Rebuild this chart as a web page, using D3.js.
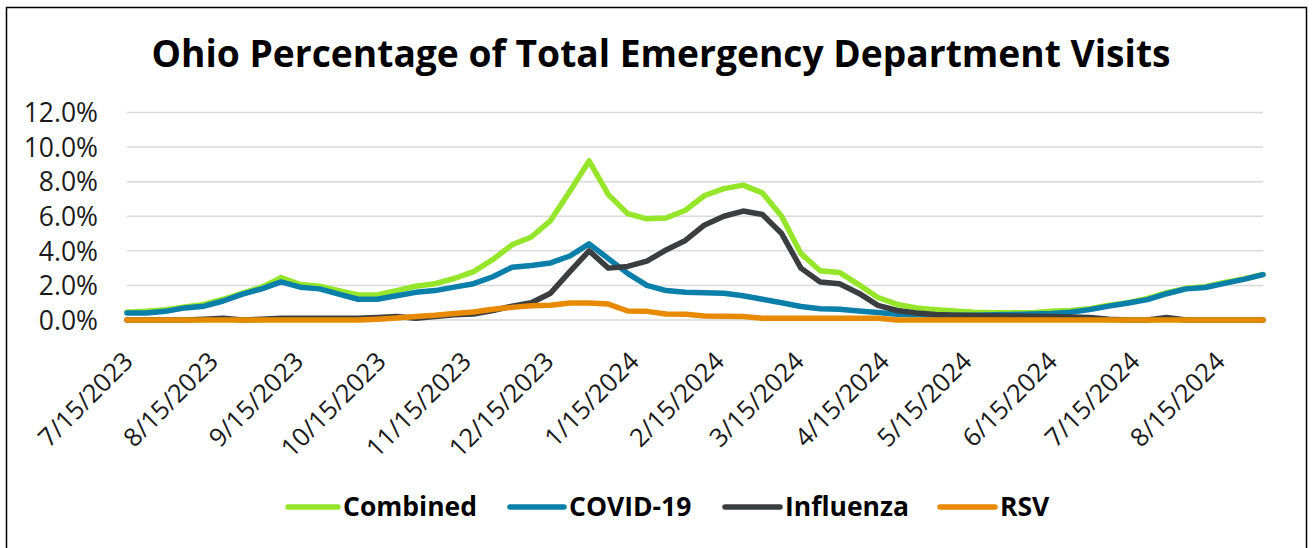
<!DOCTYPE html>
<html>
<head>
<meta charset="utf-8">
<script src="https://cdn.jsdelivr.net/npm/d3@7"></script>
<style>
  html, body { margin: 0; padding: 0; background: #fff; }
  svg { display: block; font-family: "Open Sans", "Noto Sans", sans-serif; }
</style>
</head>
<body>
<svg id="chart" width="1314" height="548"></svg>
<script>
// ---- data (weekly, week ending dates) ----
const dates = [
  "7/15/2023","7/22/2023","7/29/2023","8/5/2023","8/12/2023","8/19/2023","8/26/2023","9/2/2023","9/9/2023","9/16/2023",
  "9/23/2023","9/30/2023","10/7/2023","10/14/2023","10/21/2023","10/28/2023","11/4/2023","11/11/2023","11/18/2023","11/25/2023",
  "12/2/2023","12/9/2023","12/16/2023","12/23/2023","12/30/2023","1/6/2024","1/13/2024","1/20/2024","1/27/2024","2/3/2024",
  "2/10/2024","2/17/2024","2/24/2024","3/2/2024","3/9/2024","3/16/2024","3/23/2024","3/30/2024","4/6/2024","4/13/2024",
  "4/20/2024","4/27/2024","5/4/2024","5/11/2024","5/18/2024","5/25/2024","6/1/2024","6/8/2024","6/15/2024","6/22/2024",
  "6/29/2024","7/6/2024","7/13/2024","7/20/2024","7/27/2024","8/3/2024","8/10/2024","8/17/2024","8/24/2024","8/31/2024"
];
const combined = [
  0.45,0.5,0.6,0.75,0.9,1.2,1.55,1.9,2.45,2.05,
  1.95,1.7,1.45,1.45,1.7,1.95,2.1,2.4,2.8,3.5,
  4.35,4.8,5.75,7.45,9.2,7.25,6.15,5.85,5.9,6.35,
  7.2,7.6,7.8,7.35,6.0,3.85,2.85,2.75,2.05,1.3,
  0.9,0.7,0.6,0.52,0.45,0.42,0.42,0.42,0.5,0.55,
  0.65,0.85,1.0,1.25,1.58,1.83,1.92,2.17,2.38,2.63
];
const covid = [
  0.4,0.4,0.5,0.7,0.8,1.1,1.5,1.8,2.2,1.9,
  1.8,1.5,1.2,1.2,1.4,1.6,1.7,1.9,2.1,2.5,
  3.05,3.15,3.3,3.7,4.4,3.55,2.7,2.0,1.7,1.6,
  1.58,1.55,1.4,1.2,1.0,0.78,0.65,0.62,0.52,0.43,
  0.33,0.3,0.28,0.28,0.28,0.3,0.32,0.35,0.38,0.45,
  0.6,0.8,0.98,1.18,1.52,1.8,1.88,2.12,2.35,2.62
];
const influenza = [
  0,0,0,0,0.05,0.1,0,0.05,0.1,0.1,
  0.1,0.1,0.1,0.15,0.2,0.1,0.2,0.3,0.35,0.55,
  0.8,1.0,1.55,2.8,4.0,3.0,3.1,3.4,4.05,4.6,
  5.5,6.0,6.3,6.1,5.0,3.0,2.2,2.1,1.55,0.85,
  0.55,0.4,0.32,0.28,0.26,0.25,0.23,0.22,0.2,0.18,
  0.15,0.05,0,0,0.15,0,0,0,0,0
];
const rsv = [
  0,0,0,0,0,0,0,0,0,0,
  0,0,0,0.05,0.12,0.2,0.27,0.38,0.46,0.62,
  0.73,0.82,0.85,0.98,0.98,0.92,0.52,0.5,0.35,0.33,
  0.23,0.21,0.2,0.1,0.1,0.1,0.1,0.1,0.1,0.1,
  0,0,0,0,0,0,0,0,0,0,
  0,0,0,0,0,0,0,0,0,0
];
const seriesNames = ["Combined", "COVID-19", "Influenza", "RSV"];
const seriesColors = ["#95E52B", "#0A7FAA", "#3B3E41", "#E88A00"];
const xTickLabels = ["7/15/2023","8/15/2023","9/15/2023","10/15/2023","11/15/2023","12/15/2023",
  "1/15/2024","2/15/2024","3/15/2024","4/15/2024","5/15/2024","6/15/2024","7/15/2024","8/15/2024"];
const yTicks = [0, 2, 4, 6, 8, 10, 12];
const titleText = "Ohio Percentage of Total Emergency Department Visits";

// ---- chart ----
const parse = d3.utcParse("%m/%d/%Y");
const dateObjs = dates.map(parse);
const seriesValues = [combined, covid, influenza, rsv];

const svg = d3.select("#chart");
const plot = { left: 127, right: 1263, top: 112.5, bottom: 320 };

// border
svg.append("rect")
  .attr("x", 6.5).attr("y", 7.5)
  .attr("width", 1300).attr("height", 560)
  .attr("fill", "none").attr("stroke", "#000").attr("stroke-width", 1.5);

const x = d3.scaleUtc()
  .domain([dateObjs[0], dateObjs[dateObjs.length - 1]])
  .range([plot.left, plot.right]);
const y = d3.scaleLinear().domain([0, 12]).range([plot.bottom, plot.top]);

// title
svg.append("text")
  .attr("x", 661).attr("y", 67)
  .attr("text-anchor", "middle")
  .attr("font-size", 37.2).attr("font-weight", 700).attr("fill", "#000")
  .text(titleText);

// gridlines
svg.append("g").selectAll("line").data(yTicks).join("line")
  .attr("x1", plot.left).attr("x2", plot.right)
  .attr("y1", d => y(d)).attr("y2", d => y(d))
  .attr("stroke", "#D9D9D9").attr("stroke-width", 1.5);

// y axis labels
const yAxis = d3.axisLeft(y).tickValues(yTicks).tickSize(0).tickPadding(0)
  .tickFormat(d => d3.format(".1f")(d) + "%");
const yg = svg.append("g").attr("transform", `translate(${plot.left - 29},0)`).call(yAxis);
yg.select(".domain").remove();
yg.selectAll("text").attr("font-size", 26.5).attr("fill", "#1A1A1A")
  .attr("font-family", '"Open Sans", sans-serif').attr("dy", "0.35em");

// x axis labels
const xAxis = d3.axisBottom(x).tickValues(xTickLabels.map(parse)).tickSize(0)
  .tickFormat(d => `${d.getUTCMonth() + 1}/${d.getUTCDate()}/${d.getUTCFullYear()}`);
const xg = svg.append("g").attr("transform", `translate(0,${plot.bottom})`).call(xAxis);
xg.select(".domain").remove();
xg.selectAll("text")
  .attr("font-size", 25.5).attr("fill", "#1A1A1A").attr("font-family", '"Open Sans", sans-serif')
  .attr("text-anchor", "end").attr("dy", 0).attr("y", 0)
  .attr("transform", "translate(7,43) rotate(-45)");

// lines
const line = d3.line().x((d, i) => x(dateObjs[i])).y(d => y(d));
svg.append("g").selectAll("path").data(seriesValues).join("path")
  .attr("d", d => line(d))
  .attr("fill", "none")
  .attr("stroke", (d, i) => seriesColors[i])
  .attr("stroke-width", 5.5)
  .attr("stroke-linejoin", "round")
  .attr("stroke-linecap", "round");

// legend
const legendItems = [
  { x1: 288, x2: 338, tx: 343 },
  { x1: 510, x2: 564, tx: 569 },
  { x1: 725, x2: 780, tx: 785 },
  { x1: 940, x2: 995, tx: 1000 }
];
const lg = svg.append("g");
const li = lg.selectAll("g").data(seriesNames).join("g");
li.append("line")
  .attr("x1", (d, i) => legendItems[i].x1).attr("x2", (d, i) => legendItems[i].x2)
  .attr("y1", 507).attr("y2", 507)
  .attr("stroke", (d, i) => seriesColors[i]).attr("stroke-width", 5.5).attr("stroke-linecap", "round");
li.append("text")
  .attr("x", (d, i) => legendItems[i].tx).attr("y", 507).attr("dy", "0.35em")
  .attr("font-size", 26.5).attr("font-weight", 700).attr("fill", "#000")
  .text(d => d);
</script>
</body>
</html>
